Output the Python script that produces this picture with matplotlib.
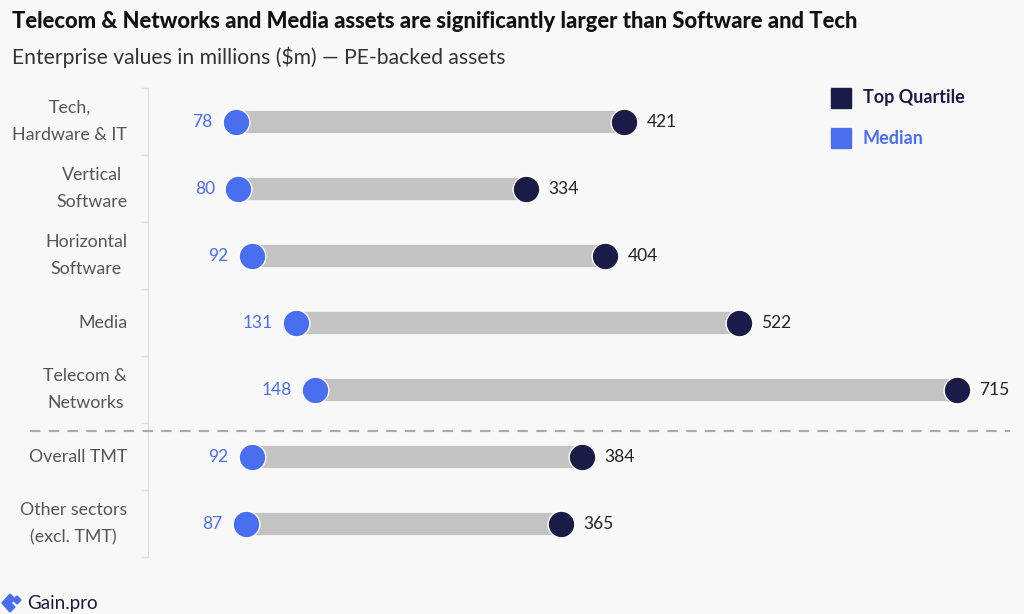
import matplotlib
matplotlib.use("Agg")
import matplotlib.pyplot as plt
import numpy as np
from matplotlib.lines import Line2D
from matplotlib.patches import Polygon, Rectangle

# Data
categories = ["Tech,\nHardware & IT", "Vertical\nSoftware", "Horizontal\nSoftware",
              "Media", "Telecom &\nNetworks", "Overall TMT", "Other sectors\n(excl. TMT)"]
median = [78, 80, 92, 131, 148, 92, 87]
top_quartile = [421, 334, 404, 522, 715, 384, 365]

BG = "#f8f8f8"
NAVY = "#1b1b47"
BLUE = "#4a6ef0"
GRAY_BAR = "#c3c3c3"
TEXT_GRAY = "#555555"

W, H = 1024, 614

plt.rcParams["font.family"] = ["Lato", "DejaVu Sans"]

fig = plt.figure(figsize=(W / 100, H / 100), dpi=100, facecolor=BG)
ax = fig.add_axes([0.1445, 0.0928, 0.842, 0.7638])
ax.set_facecolor(BG)

y = np.arange(len(categories))

# gray connecting bars
for yi, lo, hi in zip(y, median, top_quartile):
    ax.plot([lo, hi], [yi, yi], color=GRAY_BAR, linewidth=16, solid_capstyle="butt", zorder=1)

ax.scatter(median, y, s=370, color=BLUE, edgecolor="white", linewidth=1, zorder=3)
ax.scatter(top_quartile, y, s=370, color=NAVY, edgecolor="white", linewidth=1, zorder=3)

for yi, lo, hi in zip(y, median, top_quartile):
    ax.annotate(str(lo), (lo, yi), xytext=(-17, 0), textcoords="offset points",
                ha="right", va="center", fontsize=12.5, color=BLUE)
    ax.annotate(str(hi), (hi, yi), xytext=(16, 0), textcoords="offset points",
                ha="left", va="center", fontsize=12.5, color="#222222")

ax.set_xlim(0, 762)
ax.set_ylim(len(categories) - 0.5, -0.5)

ax.set_yticks(y)
ax.set_yticklabels(categories, fontsize=12.8, color=TEXT_GRAY)
for lab in ax.get_yticklabels():
    lab.set_multialignment("center")
    lab.set_linespacing(1.9)
    lab.set_verticalalignment("center")
ax.set_yticks(np.arange(-0.5, len(categories), 1), minor=True)
ax.tick_params(axis="y", which="major", length=0, pad=15)
ax.tick_params(axis="y", which="minor", length=5, color="#dddddd", width=1)
ax.set_xticks([])

for s in ["top", "right", "bottom"]:
    ax.spines[s].set_visible(False)
ax.spines["left"].set_color("#dddddd")

# dashed separator between TMT sectors and totals
sep = Line2D([30 / W, 1010 / W], [1 - 431 / H, 1 - 431 / H], transform=fig.transFigure,
             color="#aaaaaa", linestyle=(0, (5, 4)), linewidth=1.5)
fig.add_artist(sep)

# legend
fig.add_artist(Rectangle((831 / W, 1 - 108 / H), 20 / W, 20 / H,
                         transform=fig.transFigure, color=NAVY))
fig.add_artist(Rectangle((831 / W, 1 - 148 / H), 20 / W, 20 / H,
                         transform=fig.transFigure, color=BLUE))
fig.text(863 / W, 1 - 98 / H, "Top Quartile", fontsize=13, fontweight="bold",
         color=NAVY, va="center")
fig.text(863 / W, 1 - 138 / H, "Median", fontsize=13, fontweight="bold",
         color=BLUE, va="center")

# titles
fig.text(12 / W, 1 - 22 / H, "Telecom & Networks and Media assets are significantly larger than Software and Tech",
         fontsize=15.8, fontweight="black", color="#111111", va="center")
fig.text(12 / W, 1 - 57 / H, "Enterprise values in millions ($m) \u2014 PE-backed assets",
         fontsize=15.2, color="#333333", va="center")

# logo
logo_pts = [(10, 594), (2, 603), (10, 612), (15, 607), (11, 603), (15, 599)]
fig.add_artist(Polygon([(px / W, 1 - py / H) for px, py in logo_pts],
                       closed=True, transform=fig.transFigure, color=BLUE))
fig.add_artist(Polygon([(px / W, 1 - py / H) for px, py in [(17, 596), (21, 600), (17, 604), (13, 600)]],
                       closed=True, transform=fig.transFigure, color=BLUE))
fig.text(27 / W, 1 - 603 / H, "Gain.pro", fontsize=13.5, color="#1b1b3a", va="center")

plt.savefig("out.png", dpi=100, facecolor=BG)
